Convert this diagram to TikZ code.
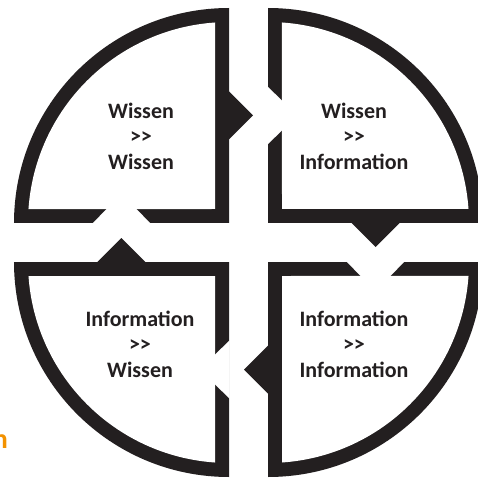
\documentclass[tikz,border=0pt]{standalone}
\usepackage{fontspec}
\setmainfont{Carlito}
\usepackage{xcolor}
\definecolor{frameblack}{RGB}{35,31,32}
\definecolor{cutorange}{RGB}{243,146,0}

\begin{document}
\begin{tikzpicture}[x=1pt, y=1pt,
    quadlabel/.style={align=center, text=frameblack, inner sep=0pt,
        font=\bfseries\fontsize{22}{25.5}\selectfont}]

    \useasboundingbox (-248.5,-236.5) rectangle (229.5,242.5);
    \clip (-248.5,-236.5) rectangle (229.5,242.5);

    % Four quarters, each turned by 90 degrees
    \foreach \ang in {0,-90,-180,-270} {
      \begin{scope}[rotate=\ang]
        % outer quarter disc
        \fill[frameblack] (-19.5,19.5) -- (-19.5,234.5) arc[start angle=90, end angle=180, radius=215] -- cycle;
        % white inside
        \fill[white] (-33.5,33.5) -- (-33.5,220.01) arc[start angle=93.99, end angle=176.01, radius=201] -- cycle;
        % opening in the lower edge
        \fill[white] (-156,19) -- (-98,19) -- (-112.5,34) -- (-141.5,34) -- cycle;
        % arrow out of the right edge
        \fill[frameblack] (-20.5,102) -- (4.5,127) -- (-20.5,152) -- cycle;
      \end{scope}
    }

    \node[quadlabel] (ww) at (-107.5,106.5) {Wissen\\>{}>\\Wissen};
    \node[quadlabel] (wi) at (105.5,106.5) {Wissen\\>{}>\\Information};
    \node[quadlabel] (iw) at (-108.5,-101.5) {Information\\>{}>\\Wissen};
    \node[quadlabel] (ii) at (105.5,-101.5) {Information\\>{}>\\Information};

    \node[anchor=base east, inner sep=0pt, text=cutorange,
        font=\bfseries\fontsize{28}{30}\selectfont] (cut) at (-240.5,-205.5) {n};

\end{tikzpicture}
\end{document}
